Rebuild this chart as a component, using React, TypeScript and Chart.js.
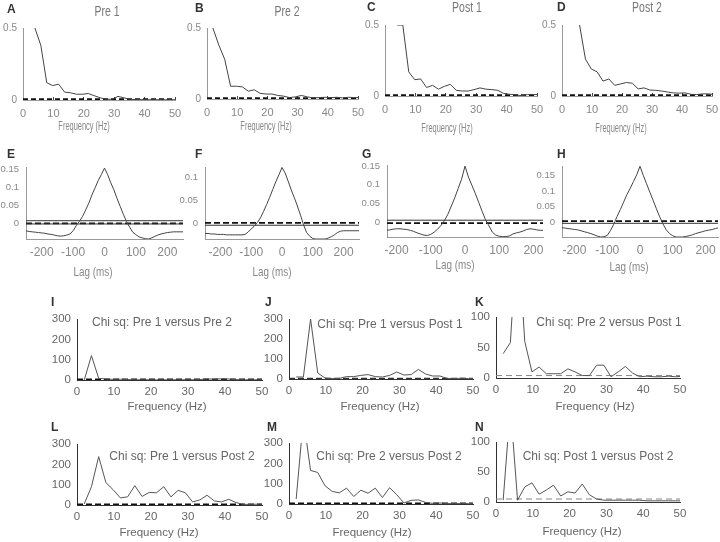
import React, { useEffect, useRef } from "react";
import { Chart, registerables } from "chart.js";

Chart.register(...registerables);

// ---------------- data ----------------
const freqHz = [1.95, 3.91, 5.86, 7.81, 9.77, 11.72, 13.67, 15.63, 17.58, 19.53, 21.48, 23.44, 25.39, 27.34, 29.3, 31.25, 33.2, 35.16, 37.11, 39.06, 41.02, 42.97, 44.92, 46.88, 48.83, 50.78];

// Power spectra (A-D)
const psdPre1 = [null, 0.5, 0.38, 0.12, 0.1, 0.11, 0.055, 0.05, 0.04, 0.04, 0.045, 0.03, 0.015, 0.005, 0.005, 0.025, 0.015, 0.004, 0.003, 0.003, 0.002, 0.002, 0.002, 0.002, 0.002, 0.002];
const psdPre2 = [0.5, 0.38, 0.28, 0.09, 0.09, 0.085, 0.055, 0.065, 0.04, 0.035, 0.035, 0.025, 0.02, 0.01, 0.015, 0.025, 0.015, 0.008, 0.01, 0.012, 0.01, 0.012, 0.008, 0.012, 0.01, 0.01];
const psdPost1 = [null, 0.5, 0.5, 0.17, 0.115, 0.12, 0.06, 0.075, 0.048, 0.068, 0.082, 0.04, 0.035, 0.035, 0.045, 0.057, 0.048, 0.045, 0.04, 0.018, 0.012, 0.008, 0.002, 0.01, 0.01, 0.01];
const psdPost2 = [null, null, 0.5, 0.26, 0.19, 0.17, 0.105, 0.12, 0.075, 0.085, 0.095, 0.09, 0.05, 0.057, 0.042, 0.04, 0.035, 0.028, 0.022, 0.02, 0.022, 0.012, 0.01, 0.015, 0.015, 0.01];
const psdNoiseLevel = [0.006, 0.006, 0.006, 0.006];

// Cross-correlograms (E-H)
const lagMs = [-250, -240, -230, -220, -210, -200, -190, -180, -170, -160, -150, -140, -130, -120, -110, -100, -90, -80, -70, -60, -50, -40, -30, -20, -10, 0, 10, 20, 30, 40, 50, 60, 70, 80, 90, 100, 110, 120, 130, 140, 150, 160, 170, 180, 190, 200, 210, 220, 230, 240, 250];
const xcorrPre1 = [-0.022, -0.024, -0.025, -0.026, -0.027, -0.028, -0.029, -0.031, -0.032, -0.034, -0.036, -0.037, -0.036, -0.034, -0.031, -0.022, -0.008, 0.004, 0.018, 0.036, 0.055, 0.078, 0.098, 0.118, 0.135, 0.153, 0.135, 0.112, 0.092, 0.068, 0.046, 0.024, 0.004, -0.012, -0.026, -0.033, -0.039, -0.042, -0.044, -0.045, -0.042, -0.038, -0.034, -0.031, -0.029, -0.027, -0.026, -0.025, -0.025, -0.025, -0.025];
const xcorrPre2 = [-0.022, -0.022, -0.023, -0.023, -0.024, -0.024, -0.024, -0.025, -0.025, -0.025, -0.025, -0.025, -0.025, -0.024, -0.019, -0.012, -0.006, 0.002, 0.012, 0.026, 0.041, 0.057, 0.074, 0.091, 0.106, 0.122, 0.11, 0.092, 0.073, 0.056, 0.038, 0.018, -0.003, -0.02, -0.028, -0.033, -0.034, -0.034, -0.034, -0.034, -0.032, -0.029, -0.025, -0.02, -0.017, -0.016, -0.016, -0.016, -0.016, -0.016, -0.016];
const xcorrPost1 = [-0.024, -0.023, -0.022, -0.021, -0.019, -0.018, -0.018, -0.019, -0.02, -0.022, -0.025, -0.029, -0.032, -0.035, -0.036, -0.033, -0.027, -0.019, -0.009, 0.004, 0.021, 0.043, 0.065, 0.09, 0.115, 0.15, 0.121, 0.099, 0.077, 0.053, 0.029, 0.006, -0.01, -0.027, -0.035, -0.038, -0.039, -0.039, -0.037, -0.032, -0.029, -0.027, -0.024, -0.02, -0.018, -0.019, -0.021, -0.022, -0.022, -0.022, -0.022];
const xcorrPost2 = [-0.017, -0.018, -0.019, -0.021, -0.022, -0.024, -0.025, -0.028, -0.031, -0.034, -0.037, -0.041, -0.045, -0.048, -0.047, -0.043, -0.027, -0.007, 0.018, 0.04, 0.064, 0.088, 0.108, 0.13, 0.152, 0.179, 0.15, 0.123, 0.096, 0.07, 0.043, 0.017, -0.006, -0.025, -0.037, -0.044, -0.048, -0.048, -0.048, -0.046, -0.044, -0.041, -0.037, -0.034, -0.031, -0.028, -0.026, -0.024, -0.021, -0.018, -0.017];
const xcorrShuffleMean = [-0.0015, 0.001, -0.003, 0.003];
const xcorrShuffleBounds = [[0.006, -0.003], [-0.004], [0.005], [-0.004]];

// Chi-square comparisons (I-N)
const chiPre1Pre2 = [0, 120, 8, 5, 3, 4, 2, 1, 1, 1, 1, 1, 1, 1, 1, 1, 2, 5, 4, 6, 5, 2, 1, 1, 1, 1];
const chiPre1Post1 = [10, 10, 300, 30, 5, 2, 3, 12, 12, 18, 22, 12, 10, 18, 35, 20, 22, 48, 25, 15, 15, 3, 2, 4, 2, 2];
const chiPre2Post1 = [40, 58, 250, 60, 10, 18, 7, 7, 7, 15, 10, 4, 4, 21, 21, 2, 10, 19, 8, 2, 3, 2, 2, 3, 2, 3];
const chiPre1Post2 = [5, 90, 238, 110, 75, 35, 40, 95, 42, 62, 60, 90, 40, 72, 60, 15, 25, 48, 20, 15, 28, 12, 3, 3, 4, 4];
const chiPre2Post2 = [25, 420, 165, 155, 90, 62, 55, 78, 37, 68, 53, 78, 32, 80, 45, 5, 18, 20, 8, 3, 5, 2, 2, 2, 2, 2];
const chiPost1Post2 = [3, 160, 3, 25, 32, 13, 20, 28, 10, 17, 15, 30, 12, 5, 3, 3, 3, 3, 3, 3, 2, 2, 2, 2, 2, 2];
const chiCritical = [2, 3, 4, 2, 2, 5];

// Tick labels
const freqTicks = [0, 10, 20, 30, 40, 50];
const lagTicks = [-200, -100, 0, 100, 200];
const psdTicks = [0, 0.5];
const xcorrTicks = [0, 0.05, 0.1, 0.15];
const xcorrTicksF = [0, 0.05, 0.1];
const chiTicks300 = [0, 100, 200, 300];
const chiTicks100 = [0, 50, 100];

// ---------------- styling / layout ----------------
const SANS = "'Liberation Sans', Arial, Helvetica, sans-serif";
const LETTER_FONT = `bold 12px ${SANS}`;
const YW = 50, PT = 40, PR = 15, XH = 45;

type Txt = { text: string; x: number; y: number; font: string; color: string; align?: CanvasTextAlign; sx?: number };
type HLine = { y: number; dash: number[]; color: string; width: number };
type Panel = {
  rect: [number, number, number, number];
  xr: [number, number];
  yr: [number, number];
  xTicks: number[];
  yTicks: number[];
  xs: number[];
  ys: (number | null)[];
  hlines: HLine[];
  texts: Txt[];
  xTickFont: { family: string; size: number };
  yTickFont: { family: string; size: number };
  tickColor: string;
  axisColor: string;
  lineColor: string;
  xPad: number;
  yPad: number;
  innerTick: number;
};

const psdPanel = (letter: string, title: string, ys: (number | null)[], noise: number, rect: [number, number, number, number], lxy: [number, number], txy: [number, number], axy: [number, number]): Panel => ({
  rect, xr: [0, 50], yr: [0, 0.5], xTicks: freqTicks, yTicks: psdTicks, xs: freqHz, ys,
  hlines: [{ y: noise, dash: [5, 3], color: "#111", width: 2 }],
  texts: [
    { text: letter, x: lxy[0], y: lxy[1], font: LETTER_FONT, color: "#333", align: "left" },
    { text: title, x: txy[0], y: txy[1], font: `14px ${SANS}`, color: "#777", sx: 0.75 },
    { text: "Frequency (Hz)", x: axy[0], y: axy[1], font: `12px ${SANS}`, color: "#888", sx: 0.62 },
  ],
  xTickFont: { family: SANS, size: 11 }, yTickFont: { family: SANS, size: 10 },
  tickColor: "#888", axisColor: "#999", lineColor: "#444", xPad: 7, yPad: 6, innerTick: 3,
});

const xcorrPanel = (letter: string, ys: number[], mean: number, bounds: number[], yr: [number, number], xr: [number, number], yTicks: number[], rect: [number, number, number, number], lxy: [number, number], axy: [number, number]): Panel => ({
  rect, xr, yr, xTicks: lagTicks, yTicks, xs: lagMs, ys,
  hlines: [
    ...bounds.map((b) => ({ y: b, dash: [], color: "#333", width: 1 })),
    { y: mean, dash: [6, 3], color: "#111", width: 1.8 },
  ],
  texts: [
    { text: letter, x: lxy[0], y: lxy[1], font: LETTER_FONT, color: "#333", align: "left" },
    { text: "Lag (ms)", x: axy[0], y: axy[1], font: `13px ${SANS}`, color: "#888", sx: 0.76 },
  ],
  xTickFont: { family: SANS, size: 12 }, yTickFont: { family: SANS, size: 9.5 },
  tickColor: "#888", axisColor: "#999", lineColor: "#444", xPad: 6, yPad: 7, innerTick: 0,
});

const chiPanel = (letter: string, title: string, ys: number[], crit: number, critStyle: HLine, ymax: number, yTicks: number[], rect: [number, number, number, number], lxy: [number, number], txy: [number, number], axy: [number, number]): Panel => ({
  rect, xr: [0, 50], yr: [0, ymax], xTicks: freqTicks, yTicks, xs: freqHz, ys,
  hlines: [{ ...critStyle, y: crit }],
  texts: [
    { text: letter, x: lxy[0], y: lxy[1], font: LETTER_FONT, color: "#333", align: "left" },
    { text: title, x: txy[0], y: txy[1], font: `12px ${SANS}`, color: "#666" },
    { text: "Frequency (Hz)", x: axy[0], y: axy[1], font: `11.5px ${SANS}`, color: "#666" },
  ],
  xTickFont: { family: SANS, size: 11.5 }, yTickFont: { family: SANS, size: 11.5 },
  tickColor: "#666", axisColor: "#333", lineColor: "#555", xPad: 5, yPad: 6, innerTick: 0,
});

const thickDash: HLine = { y: 0, dash: [6, 3], color: "#111", width: 2 };
const midDash: HLine = { y: 0, dash: [6, 3], color: "#333", width: 1.3 };
const thinDash: HLine = { y: 0, dash: [6, 4], color: "#888", width: 1 };

const PANELS: Panel[] = [
  psdPanel("A", "Pre 1", psdPre1, psdNoiseLevel[0], [23, 28, 175, 100], [7, 10], [107, 12], [84, 127]),
  psdPanel("B", "Pre 2", psdPre2, psdNoiseLevel[1], [207, 28, 358, 99], [195, 9], [287, 12], [266, 127]),
  psdPanel("C", "Post 1", psdPost1, psdNoiseLevel[2], [385, 25, 537, 96], [367, 8], [467, 8], [447, 129]),
  psdPanel("D", "Post 2", psdPost2, psdNoiseLevel[3], [562, 25, 712, 96], [557, 8], [647, 8], [621, 129]),
  xcorrPanel("E", xcorrPre1, xcorrShuffleMean[0], xcorrShuffleBounds[0], [-0.045, 0.156], [-250, 250], xcorrTicks, [26, 167, 183, 239], [7, 155], [93, 272]),
  xcorrPanel("F", xcorrPre2, xcorrShuffleMean[1], xcorrShuffleBounds[1], [-0.034, 0.123], [-250, 250], xcorrTicksF, [205, 167, 359, 239], [195, 155], [272, 272]),
  xcorrPanel("G", xcorrPost1, xcorrShuffleMean[2], xcorrShuffleBounds[2], [-0.04, 0.153], [-228, 228], xcorrTicks, [387, 165, 543, 237], [362, 155], [455, 265]),
  xcorrPanel("H", xcorrPost2, xcorrShuffleMean[3], xcorrShuffleBounds[3], [-0.048, 0.18], [-238, 238], xcorrTicks, [562, 166, 718, 237], [557, 155], [629, 267]),
  chiPanel("I", "Chi sq: Pre 1 versus Pre 2", chiPre1Pre2, chiCritical[0], thickDash, 300, chiTicks300, [77, 319, 262, 380], [51, 303], [162, 323], [167, 407]),
  chiPanel("J", "Chi sq: Pre 1 versus Post 1", chiPre1Post1, chiCritical[1], midDash, 300, chiTicks300, [289, 319, 473, 379], [265, 303], [390, 325], [380, 407]),
  chiPanel("K", "Chi sq: Pre 2 versus Post 1", chiPre2Post1, chiCritical[2], thinDash, 100, chiTicks100, [496, 317, 680, 378], [475, 303], [609, 323], [595, 407]),
  chiPanel("L", "Chi sq: Pre 1 versus Post 2", chiPre1Post2, chiCritical[3], thickDash, 300, chiTicks300, [77, 444, 262, 505], [51, 428], [182, 457], [159, 533]),
  chiPanel("M", "Chi sq: Pre 2 versus Post 2", chiPre2Post2, chiCritical[4], thickDash, 300, chiTicks300, [289, 443, 473, 504], [267, 428], [389, 457], [372, 533]),
  chiPanel("N", "Chi sq: Post 1 versus Post 2", chiPost1Post2, chiCritical[5], thinDash, 100, chiTicks100, [496, 442, 680, 502], [475, 428], [598, 457], [582, 532]),
];

const fmt = (v: number) => String(Number(Number(v).toFixed(3)));

const textPlugin = {
  id: "panelText",
  afterDraw(chart: any, _args: any, opts: any) {
    const { ctx } = chart;
    for (const t of opts.texts as Txt[]) {
      ctx.save();
      ctx.font = t.font;
      ctx.fillStyle = t.color;
      ctx.textAlign = t.align ?? "center";
      ctx.textBaseline = "middle";
      const sx = t.sx ?? 1;
      ctx.translate(t.x - opts.ox, t.y - opts.oy);
      ctx.scale(sx, 1);
      ctx.fillText(t.text, 0, 0);
      ctx.restore();
    }
  },
};

function geom(p: Panel) {
  const [l, t, r, b] = p.rect;
  return { ox: l - YW, oy: t - PT, w: r - l + YW + PR, h: b - t + PT + XH };
}

function build(canvas: HTMLCanvasElement, p: Panel) {
  const g = geom(p);
  const datasets: any[] = [
    {
      data: p.xs.map((x, i) => ({ x, y: p.ys[i] })),
      borderColor: p.lineColor,
      borderWidth: 1,
      pointRadius: 0,
      tension: 0,
      fill: false,
      spanGaps: false,
    },
    ...p.hlines.map((h) => ({
      data: [
        { x: p.xr[0], y: h.y },
        { x: p.xr[1], y: h.y },
      ],
      borderColor: h.color,
      borderWidth: h.width,
      borderDash: h.dash,
      pointRadius: 0,
      fill: false,
    })),
  ];
  const hasInner = p.innerTick > 0;
  return new Chart(canvas, {
    type: "line",
    data: { datasets },
    options: {
      animation: false,
      responsive: false,
      maintainAspectRatio: false,
      events: [],
      layout: { padding: { left: 0, top: PT, right: PR, bottom: 0 } },
      plugins: {
        legend: { display: false },
        tooltip: { enabled: false },
        title: { display: false },
        panelText: { texts: p.texts, ox: g.ox, oy: g.oy },
      } as any,
      scales: {
        x: {
          type: "linear",
          min: p.xr[0],
          max: p.xr[1],
          afterFit: (s: any) => {
            s.height = XH;
            s.paddingLeft = 0;
            s.paddingRight = 0;
          },
          afterBuildTicks: (s: any) => {
            s.ticks = p.xTicks.map((v) => ({ value: v }));
          },
          ticks: {
            font: p.xTickFont,
            color: p.tickColor,
            padding: p.xPad + p.innerTick,
            maxRotation: 0,
            autoSkip: false,
            callback: (v: any) => fmt(v),
          },
          grid: {
            display: true,
            drawOnChartArea: false,
            drawTicks: hasInner,
            tickLength: -p.innerTick,
            color: "#444",
            lineWidth: 1,
          },
          border: { display: true, color: p.axisColor, width: 1 },
        },
        y: {
          type: "linear",
          min: p.yr[0],
          max: p.yr[1],
          afterFit: (s: any) => {
            s.width = YW;
            s.paddingTop = 0;
            s.paddingBottom = 0;
          },
          afterBuildTicks: (s: any) => {
            s.ticks = p.yTicks.map((v) => ({ value: v }));
          },
          ticks: {
            font: p.yTickFont,
            color: p.tickColor,
            padding: p.yPad,
            autoSkip: false,
            callback: (v: any) => fmt(v),
          },
          grid: { display: true, drawOnChartArea: false, drawTicks: false },
          border: { display: true, color: p.axisColor, width: 1 },
        },
      },
    } as any,
    plugins: [textPlugin as any],
  });
}

export default function App() {
  const refs = useRef<(HTMLCanvasElement | null)[]>([]);
  useEffect(() => {
    const charts = PANELS.map((p, i) => build(refs.current[i] as HTMLCanvasElement, p));
    return () => charts.forEach((c) => c.destroy());
  }, []);
  return (
    <div style={{ position: "absolute", left: 0, top: 0, width: 720, height: 542, overflow: "hidden", background: "#fff" }}>
      {PANELS.map((p, i) => {
        const g = geom(p);
        return (
          <canvas
            key={i}
            ref={(el) => {
              refs.current[i] = el;
            }}
            width={g.w}
            height={g.h}
            style={{ position: "absolute", left: g.ox, top: g.oy, width: g.w, height: g.h }}
          />
        );
      })}
    </div>
  );
}
